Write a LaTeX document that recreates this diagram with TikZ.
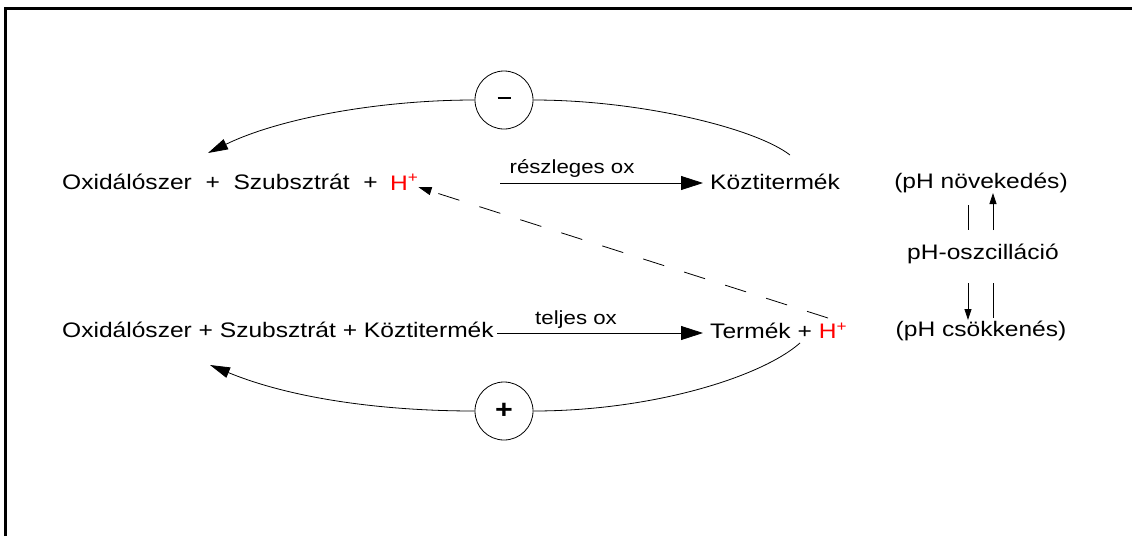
\documentclass[tikz,border=0pt]{standalone}
\usepackage{fontspec}
\setmainfont{Liberation Sans}[FakeStretch=1.17]
\usetikzlibrary{arrows.meta}
\begin{document}
\begin{tikzpicture}[x=1pt,y=-1pt,
  txt/.style={inner sep=0pt,font=\fontsize{21}{25}\selectfont},
  lbl/.style={inner sep=0pt,font=\fontsize{19}{22}\selectfont},
  sign/.style={circle,draw,line width=0.8pt,minimum size=58pt,inner sep=0pt,font=\fontsize{26}{28}\selectfont\bfseries},
  bigarr/.style={line width=0.8pt,-{Triangle[length=22pt,width=14pt]}},
  curvarr/.style={line width=0.8pt,-{Triangle[length=20pt,width=11pt]}},
  smallarr/.style={line width=0.8pt,-{Triangle[length=11pt,width=7pt]}},
  thin/.style={line width=0.8pt}]
\useasboundingbox (0,0) rectangle (1132,536);
% frame
\draw[line width=3pt] (5.5,536) -- (5.5,8.5) -- (1132,8.5);

% upper reaction
\node[txt,anchor=west] (ox1) at (62,182) {Oxidálószer \ +\ \ Szubsztrát \ +};
\node[txt,anchor=west,text=red] (h1) at ([xshift=12pt]ox1.east) {H\textsuperscript{+}};
\node[txt,anchor=west] (kt1) at (710,182) {Köztitermék};
\coordinate (p1s) at (500,183);
\coordinate (p1e) at (703,183);
\draw[bigarr] (p1s) -- (p1e);
\node[lbl] (l1) at (572,168) {részleges ox};

% lower reaction
\node[txt,anchor=west] (ox2) at (62,330) {Oxidálószer + Szubsztrát + Köztitermék};
\node[txt,anchor=west] (tm) at (710,331) {Termék + \textcolor{red}{H\textsuperscript{+}}};
\coordinate (p2s) at (497,333);
\coordinate (p2e) at (703,333);
\draw[bigarr] (p2s) -- (p2e);
\node[lbl] (l2) at (576,320) {teljes ox};

% feedback loops
\node[sign] (minus) at (504,100) {\rule[0.3ex]{13pt}{2.2pt}};
\node[sign] (plus) at (504,411) {+};
\coordinate (ktop) at (790,155);
\coordinate (t1) at (208,153);
\draw[thin] (minus.east) .. controls (640,100) and (755,128) .. (ktop);
\draw[curvarr] (minus.west) .. controls (380,100) and (280,118) .. (t1);
\coordinate (tbot) at (800,343);
\coordinate (t2) at (210,365);
\draw[thin] (plus.east) .. controls (650,411) and (760,378) .. (tbot);
\draw[curvarr] (plus.west) .. controls (380,411) and (290,398) .. (t2);

% dashed return of H+
\coordinate (ds) at (828,318);
\draw[thin,dash pattern=on 22pt off 21pt,-{Triangle[length=13pt,width=8pt]}] (ds) -- ([xshift=0pt,yshift=3pt]h1.south east);

% pH oscillation
\node[txt] (up) at (981,183) {(pH növekedés)};
\node[txt] (osc) at (983,254) {pH-oszcilláció};
\node[txt] (dn) at (981,331) {(pH csökkenés)};
\coordinate (a1) at (968,205); \coordinate (a2) at (968,230);
\coordinate (b1) at (993,230); \coordinate (b2) at (993,193);
\draw[thin] (a1) -- (a2);
\draw[smallarr] (b1) -- (b2);
\coordinate (c1) at (968,283); \coordinate (c2) at (968,320);
\coordinate (d1) at (993,283); \coordinate (d2) at (993,318);
\draw[smallarr] (c1) -- (c2);
\draw[thin] (d1) -- (d2);
\end{tikzpicture}
\end{document}
